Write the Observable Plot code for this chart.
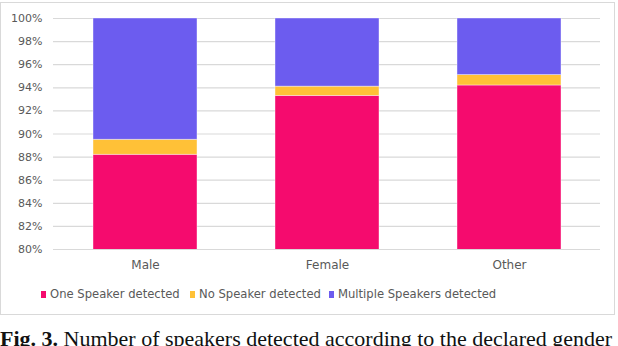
<!DOCTYPE html>
<html>
<head>
<meta charset="utf-8">
<script src="https://cdn.jsdelivr.net/npm/d3@7"></script>
<script src="https://cdn.jsdelivr.net/npm/@observablehq/plot@0.6"></script>
<style>
  html, body { margin: 0; padding: 0; background: #fff; }
  body { width: 618px; height: 346px; overflow: hidden; position: relative; }
  #frame { position: absolute; left: 0; top: 2px; width: 613px; height: 311px; border: 1px solid #d9d9d9; }
  #legend { position: absolute; left: 0; top: 281px; height: 20px; font-family: "DejaVu Sans", sans-serif; font-size: 11.6px; color: #595959; white-space: nowrap; }
  .item { position: absolute; top: 0; line-height: 20px; }
  .sw { position: absolute; top: 7px; width: 5px; height: 7px; }
  #caption { position: absolute; left: 0; top: 328px; line-height: 22px; font-family: "Liberation Serif", "Times New Roman", serif; font-size: 22px; color: #111; white-space: nowrap; }
</style>
</head>
<body>
<div id="frame"><div id="chart"></div><div id="legend"></div></div>
<div id="caption"><b>Fig. 3.</b> Number of speakers detected according to the declared gender</div>
<script>
const categories = ["Male", "Female", "Other"];
const seriesNames = ["One Speaker detected", "No Speaker detected", "Multiple Speakers detected"];
const seriesColors = ["#f50b6e", "#ffc137", "#6c5cef"];
const oneSpeaker = [88.2, 93.3, 94.2];
const noSpeaker = [1.3, 0.8, 0.9];
const multipleSpeakers = [10.5, 5.9, 4.9];
const yTicks = [80, 82, 84, 86, 88, 90, 92, 94, 96, 98, 100];

const seriesValues = [oneSpeaker, noSpeaker, multipleSpeakers];
const rows = [];
categories.forEach((c, i) => {
  seriesNames.forEach((s, j) => rows.push({gender: c, series: s, value: seriesValues[j][i]}));
});

const chart = Plot.plot({
  width: 613,
  height: 276,
  marginLeft: 52,
  marginRight: 14,
  marginTop: 15,
  marginBottom: 30,
  style: {fontFamily: "DejaVu Sans, sans-serif", fontSize: "11px", color: "#595959", background: "#fff"},
  x: {domain: categories, paddingInner: 0.43, paddingOuter: 0.215, label: null, tickSize: 0, tickPadding: 11},
  y: {domain: [80, 100], ticks: yTicks, tickFormat: d => d + "%", label: null, tickSize: 0, tickPadding: 11},
  color: {domain: seriesNames, range: seriesColors},
  marks: [
    Plot.gridY(yTicks, {stroke: "#d9d9d9", strokeOpacity: 1, strokeWidth: 1.2}),
    Plot.barY(rows, {x: "gender", y: "value", fill: "series", order: seriesNames, clip: true, stroke: "#ffffff", strokeOpacity: 0.5, strokeWidth: 0.8}),
    Plot.axisY({ticks: yTicks, tickFormat: d => d + "%", tickSize: 0, tickPadding: 11, fontSize: 11}),
    Plot.axisX({tickSize: 0, tickPadding: 11, fontSize: 12})
  ]
});
document.getElementById("chart").appendChild(chart);

const legend = document.getElementById("legend");
const itemX = [40, 189, 328];
seriesNames.forEach((s, j) => {
  const it = document.createElement("div");
  it.className = "item";
  it.style.left = itemX[j] + "px";
  it.innerHTML = `<span class="sw" style="left:0;background:${seriesColors[j]}"></span><span style="margin-left:9px">${s}</span>`;
  legend.appendChild(it);
});
</script>
</body>
</html>
